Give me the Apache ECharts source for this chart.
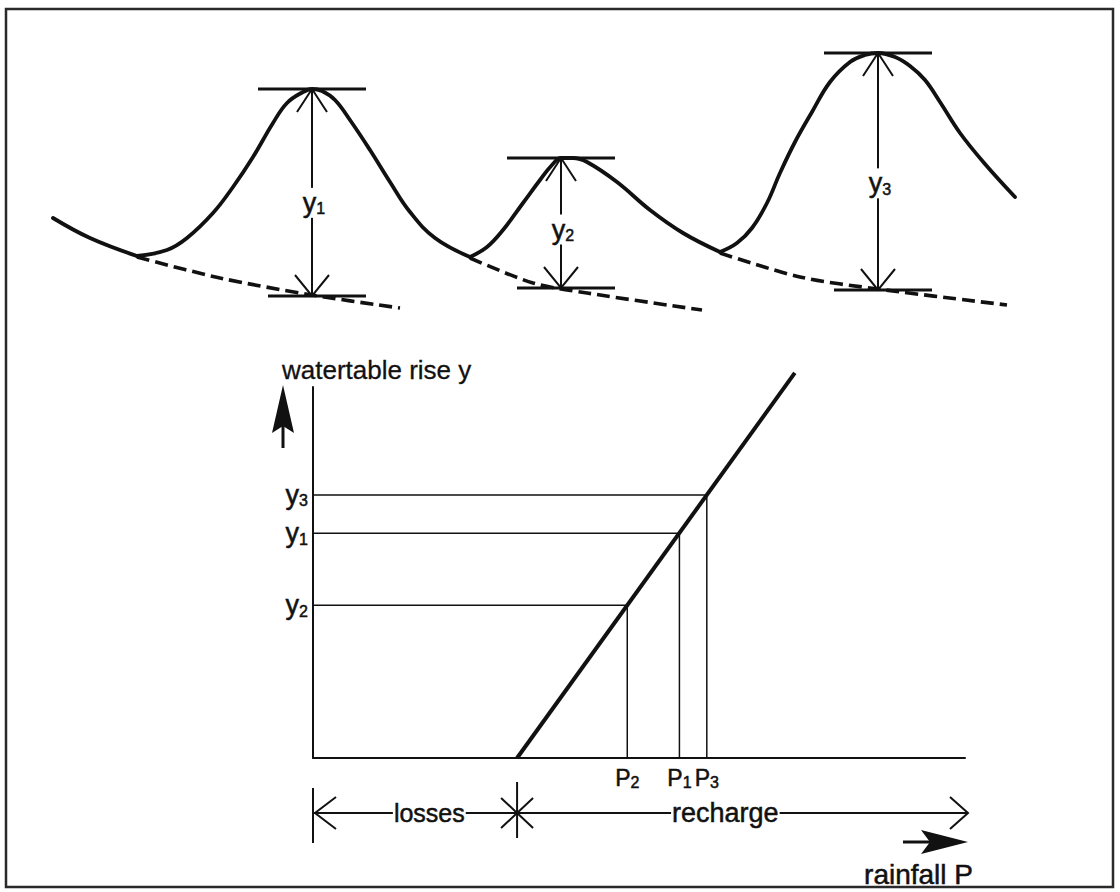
<!DOCTYPE html>
<html>
<head>
<meta charset="utf-8">
<title>Watertable rise against rainfall</title>
<script src="https://cdn.jsdelivr.net/npm/echarts@6.0.0/dist/echarts.min.js"></script>
<style>
  html, body { margin: 0; background: #fff; }
  #main { width: 1120px; height: 892px; }
</style>
</head>
<body>
<div id="main"></div>
<script>
// upper panel: watertable hydrograph, x = time, y = level
const recession0 = [[5.3, 12.2], [9.0, 10.2], [13.7, 8.4]];
const event1 = [[13.7, 8.4], [16.7, 9.0], [18.7, 10.2], [21.3, 12.7], [23.3, 15.3], [25.3, 18.3], [27.3, 21.7],
  [28.7, 23.7], [30.3, 24.8], [31.2, 25.1], [32.2, 24.9], [33.5, 24.0], [35.0, 22.0], [37.0, 19.0], [39.0, 15.8],
  [41.0, 12.8], [43.5, 10.2], [47.0, 8.3]];
const event2 = [[47.0, 8.3], [48.7, 9.3], [50.3, 11.0], [52.3, 13.7], [54.0, 16.0], [55.2, 17.5], [56.1, 18.2],
  [57.3, 18.2], [58.7, 17.8], [61.7, 15.8], [65.0, 13.0], [68.3, 10.7], [72.0, 8.8]];
const event3 = [[72.0, 8.8], [73.7, 9.7], [75.2, 11.2], [76.7, 13.7], [78.0, 16.7], [79.5, 19.8], [81.2, 22.8],
  [83.0, 25.8], [85.0, 27.8], [86.5, 28.5], [87.8, 28.7], [89.5, 28.3], [91.0, 27.4], [92.5, 26.0], [94.0, 23.8],
  [96.0, 20.7], [98.5, 17.6], [101.5, 14.3]];
// extrapolated recession (dashed)
const baseline1 = [[13.7, 8.3], [22.0, 6.2], [31.2, 4.5], [40.0, 3.2]];
const baseline2 = [[47.0, 8.2], [53.3, 5.7], [58.7, 4.7], [70.2, 3.0]];
const baseline3 = [[72.0, 8.7], [80.0, 6.3], [87.8, 5.1], [100.7, 3.5]];

const eventNames = ['1', '2', '3'];
const riseTime = [31.2, 56.1, 87.8];
const risePeak = [25.1, 18.2, 28.7];
const riseBase = [4.4, 5.2, 5.0];

// lower panel: watertable rise y against rainfall P
const rainfall = [56.2, 48.2, 60.4];   // P1, P2, P3
const rise = [60.6, 41.2, 70.9];       // y1, y2, y3
const lossThreshold = 31.3;
const responseLine = [[31.3, 0], [73.9, 103.8]];

const INK = '#111';
const FONT = "'Liberation Sans', Arial, sans-serif";
const BLEED = { stroke: INK, lineWidth: 0.5 };   // scanned print looks a bit heavier
const SUB = { s: { fontSize: 16, fontFamily: FONT, verticalAlign: 'bottom', lineHeight: 6 } };

const chart = echarts.init(document.getElementById('main'), null, { renderer: 'svg' });

function curve(data, dashed) {
  return {
    type: 'line', xAxisIndex: 0, yAxisIndex: 0, data: data,
    smooth: dashed ? 0.3 : 0.4, symbol: 'none', silent: true, clip: false,
    lineStyle: { color: INK, width: dashed ? 3.6 : 3.8, type: dashed ? [13, 6] : 'solid', cap: dashed ? 'butt' : 'round' }
  };
}

function nearest(list, v) {
  let best = 0;
  list.forEach((d, i) => { if (Math.abs(d - v) < Math.abs(list[best] - v)) best = i; });
  return best;
}

function renderRise(params, api) {
  const x = api.value(0);
  const top = api.coord([x, api.value(1)]);
  const bot = api.coord([x, api.value(2)]);
  const cx = top[0];
  const labelY = bot[1] + (top[1] - bot[1]) * 0.45;
  const s = { stroke: INK, lineWidth: 2, fill: null };
  return {
    type: 'group',
    children: [
      { type: 'line', shape: { x1: cx - 54, y1: top[1], x2: cx + 54, y2: top[1] }, style: { stroke: INK, lineWidth: 3 } },
      { type: 'line', shape: { x1: cx - 44, y1: bot[1], x2: cx + 54, y2: bot[1] }, style: { stroke: INK, lineWidth: 3 } },
      { type: 'line', shape: { x1: cx, y1: top[1], x2: cx, y2: bot[1] }, style: s },
      { type: 'polyline', shape: { points: [[cx - 15, top[1] + 23], [cx, top[1]], [cx + 15, top[1] + 23]] }, style: s },
      { type: 'polyline', shape: { points: [[cx - 17, bot[1] - 21], [cx, bot[1]], [cx + 17, bot[1] - 21]] }, style: s },
      {
        type: 'text',
        style: Object.assign({
          text: 'y{s|' + eventNames[params.dataIndex] + '}', x: cx + 2, y: labelY,
          align: 'center', verticalAlign: 'middle', fill: INK, fontSize: 27, fontFamily: FONT,
          lineHeight: 28, backgroundColor: '#fff', padding: [1, 1], rich: SUB
        }, BLEED)
      }
    ]
  };
}

function renderDecor(params, api) {
  const o = api.coord([0, 0]);
  const t = api.coord([lossThreshold, 0]);
  const e = api.coord([100, 0]);
  const top = api.coord([0, 100]);
  const ry = o[1] + 55;
  const s = { stroke: INK, lineWidth: 2, fill: null };
  const txt = (text, x, y, size, extra) => ({
    type: 'text',
    style: Object.assign({ text: text, x: x, y: y, fill: INK, fontSize: size, fontFamily: FONT, align: 'center', verticalAlign: 'middle' }, BLEED, extra)
  });
  return {
    type: 'group',
    children: [
      // losses / recharge bracket
      { type: 'line', shape: { x1: o[0], y1: ry, x2: e[0] + 3, y2: ry }, style: s },
      { type: 'line', shape: { x1: o[0], y1: ry - 25, x2: o[0], y2: ry + 30 }, style: s },
      { type: 'line', shape: { x1: t[0], y1: ry - 31, x2: t[0], y2: ry + 25 }, style: s },
      { type: 'polyline', shape: { points: [[o[0] + 23, ry - 16], [o[0] + 2, ry], [o[0] + 23, ry + 16]] }, style: s },
      { type: 'polyline', shape: { points: [[t[0] - 16, ry - 15], [t[0], ry], [t[0] - 16, ry + 15]] }, style: s },
      { type: 'polyline', shape: { points: [[t[0] + 16, ry - 15], [t[0], ry], [t[0] + 16, ry + 15]] }, style: s },
      { type: 'polyline', shape: { points: [[e[0] - 15, ry - 16], [e[0] + 3, ry], [e[0] - 15, ry + 16]] }, style: s },
      txt('losses', o[0] + (t[0] - o[0]) * 0.57, ry, 25, { backgroundColor: '#fff', padding: [0, 1] }),
      txt('recharge', t[0] + (e[0] - t[0]) * 0.465, ry, 27, { backgroundColor: '#fff', padding: [0, 1] }),
      // y direction
      { type: 'line', shape: { x1: o[0] - 30, y1: top[1] + 61, x2: o[0] - 30, y2: top[1] + 30 }, style: { stroke: INK, lineWidth: 3 } },
      { type: 'polygon', shape: { points: [[o[0] - 30, top[1] - 2], [o[0] - 19, top[1] + 46], [o[0] - 30, top[1] + 39], [o[0] - 41, top[1] + 46]] }, style: { fill: INK } },
      txt('watertable rise y', o[0] - 31, top[1] - 17, 26, { align: 'left', lineWidth: 0.3 }),
      // rainfall direction
      { type: 'line', shape: { x1: e[0] - 62, y1: o[1] + 84, x2: e[0] - 30, y2: o[1] + 84 }, style: { stroke: INK, lineWidth: 3 } },
      { type: 'polygon', shape: { points: [[e[0] + 3, o[1] + 84], [e[0] - 44, o[1] + 72], [e[0] - 35, o[1] + 84], [e[0] - 44, o[1] + 96]] }, style: { fill: INK } },
      txt('rainfall P', e[0] + 8, o[1] + 116, 28, { align: 'right' })
    ]
  };
}

const guides = rise.map((y, i) => ({
  type: 'line', xAxisIndex: 1, yAxisIndex: 1, symbol: 'none', silent: true,
  data: [[0, y], [rainfall[i], y], [rainfall[i], 0]],
  lineStyle: { color: INK, width: 1.5 }
}));

chart.setOption({
  animation: false,
  backgroundColor: '#fff',
  graphic: [{
    type: 'rect', silent: true,
    shape: { x: 6, y: 9, width: 1107, height: 878 },
    style: { fill: null, stroke: '#2a2a2a', lineWidth: 2.5 }
  }],
  grid: [
    { left: 0, top: 0, width: 1120, height: 340, containLabel: false, outerBoundsMode: 'none' },
    { left: 313, top: 387, width: 652, height: 371, containLabel: false, outerBoundsMode: 'none' }
  ],
  xAxis: [
    { gridIndex: 0, type: 'value', min: 0, max: 112, show: false },
    {
      gridIndex: 1, type: 'value', min: 0, max: 100,
      splitLine: { show: false }, axisTick: { show: false },
      axisLine: { lineStyle: { color: INK, width: 2 } },
      axisLabel: {
        customValues: rainfall, margin: 8, color: INK, fontSize: 23, lineHeight: 24, fontFamily: FONT,
        textBorderColor: INK, textBorderWidth: 0.5,
        formatter: v => 'P{s|' + eventNames[nearest(rainfall, v)] + '}',
        rich: { s: { fontSize: 16, fontFamily: FONT, verticalAlign: 'bottom', lineHeight: 8, color: INK, textBorderColor: INK, textBorderWidth: 0.5 } }
      }
    }
  ],
  yAxis: [
    { gridIndex: 0, type: 'value', min: 0, max: 34, show: false },
    {
      gridIndex: 1, type: 'value', min: 0, max: 100,
      splitLine: { show: false }, axisTick: { show: false },
      axisLine: { lineStyle: { color: INK, width: 2 } },
      axisLabel: {
        customValues: rise, margin: 5, color: INK, fontSize: 27, lineHeight: 28, fontFamily: FONT,
        textBorderColor: INK, textBorderWidth: 0.5,
        formatter: v => 'y{s|' + eventNames[nearest(rise, v)] + '}',
        rich: { s: { fontSize: 16, fontFamily: FONT, verticalAlign: 'bottom', lineHeight: 6, color: INK, textBorderColor: INK, textBorderWidth: 0.5 } }
      }
    }
  ],
  series: [
    curve(recession0), curve(event1), curve(event2), curve(event3),
    curve(baseline1, true), curve(baseline2, true), curve(baseline3, true),
    {
      type: 'custom', xAxisIndex: 0, yAxisIndex: 0, silent: true, clip: false,
      data: riseTime.map((t, i) => [t, risePeak[i], riseBase[i]]),
      renderItem: renderRise
    },
    ...guides,
    {
      type: 'line', xAxisIndex: 1, yAxisIndex: 1, symbol: 'none', silent: true, clip: false,
      data: responseLine, lineStyle: { color: INK, width: 4 }, z: 3
    },
    {
      type: 'custom', xAxisIndex: 1, yAxisIndex: 1, silent: true, clip: false,
      data: [[lossThreshold, 0]],
      renderItem: renderDecor
    }
  ]
});
</script>
</body>
</html>
